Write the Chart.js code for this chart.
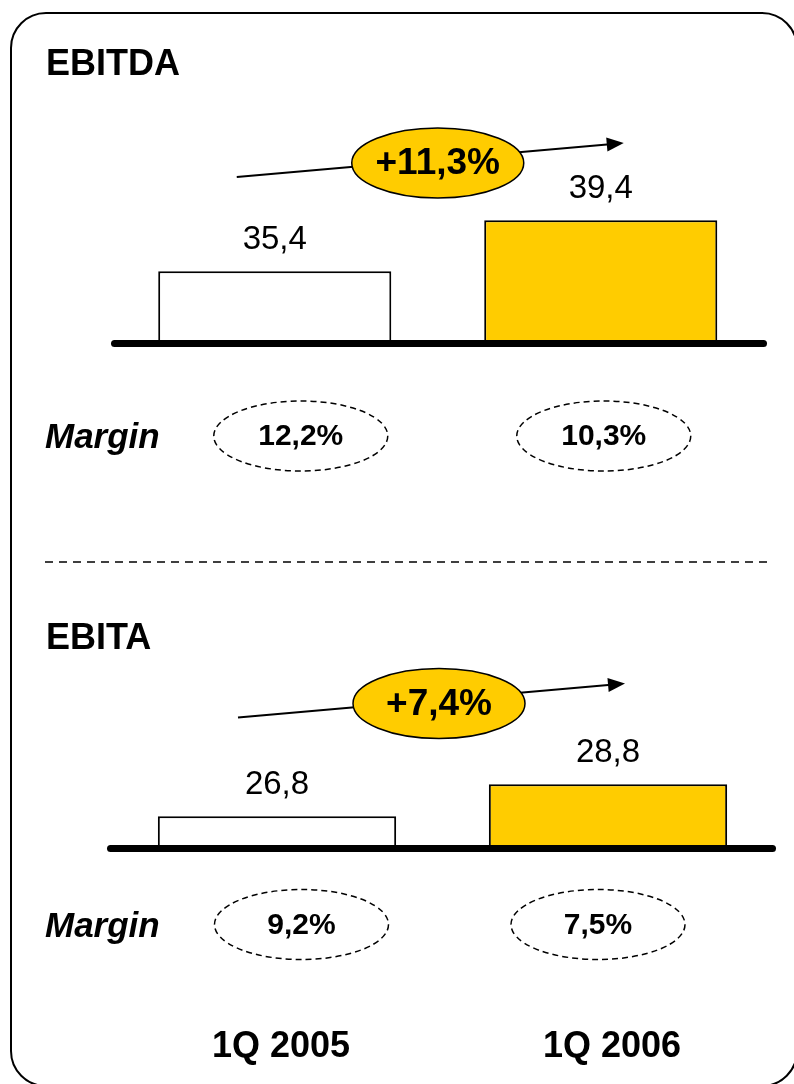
<!DOCTYPE html>
<html>
<head>
<meta charset="utf-8">
<script src="https://cdn.jsdelivr.net/npm/chart.js@4.4.1/dist/chart.umd.min.js"></script>
<style>
    html, body { margin: 0; padding: 0; background: #fff; }
    body { width: 794px; height: 1084px; position: relative; overflow: hidden; }
    .frame {
        position: absolute; left: 10px; top: 12px; width: 788px; height: 1075px;
        box-sizing: border-box; border: 2px solid #000; border-radius: 36px;
    }
    canvas { position: absolute; left: 0; }
    #ebitdaChart { top: 0; }
    #ebitaChart { top: 580px; }
</style>
</head>
<body>
<div class="frame"></div>
<canvas id="ebitdaChart" width="794" height="580"></canvas>
<canvas id="ebitaChart" width="794" height="504"></canvas>
<script>
// Data
const categories = ['1Q 2005', '1Q 2006'];
const ebitdaValues = [35.4, 39.4];
const ebitaValues = [26.8, 28.8];
const ebitdaMargins = [12.2, 10.3];
const ebitaMargins = [9.2, 7.5];
const growthLabels = ['+11,3%', '+7,4%'];

const YELLOW = '#FFCC00';
const FONT = '"Liberation Sans", Arial, sans-serif';

function fmt(v) {
    return v.toFixed(1).replace('.', ',');
}

// Draws the axis bar, value labels, growth pill and margin ellipses
const decorPlugin = {
    id: 'decor',
    afterDatasetsDraw(chart, args, opts) {
        const ctx = chart.ctx;
        const area = chart.chartArea;
        const bars = chart.getDatasetMeta(0).data;
        const values = chart.data.datasets[0].data;
        ctx.save();

        // title
        ctx.fillStyle = '#000';
        ctx.textAlign = 'left';
        ctx.textBaseline = 'alphabetic';
        ctx.font = 'bold 36px ' + FONT;
        ctx.fillText(opts.title, 46, opts.titleY);

        // thick base line
        ctx.strokeStyle = '#000';
        ctx.lineWidth = 7;
        ctx.lineCap = 'round';
        ctx.beginPath();
        ctx.moveTo(area.left + opts.axisFrom, area.bottom + 3.5);
        ctx.lineTo(area.right + opts.axisTo, area.bottom + 3.5);
        ctx.stroke();

        // value labels
        ctx.font = '33px ' + FONT;
        ctx.textAlign = 'center';
        bars.forEach((bar, i) => {
            ctx.fillText(fmt(values[i]), bar.x, bar.y - 22);
        });

        // growth arrow + pill
        const cx = (bars[0].x + bars[1].x) / 2 + opts.pillShift;
        const cy = area.top + opts.pillOffset;
        const x0 = cx - 201, y0 = cy + 14;
        const x1 = cx + 186, y1 = cy - 20;
        const ang = Math.atan2(y1 - y0, x1 - x0);
        ctx.lineWidth = 2;
        ctx.lineCap = 'butt';
        ctx.beginPath();
        ctx.moveTo(x0, y0);
        ctx.lineTo(x1 - 14 * Math.cos(ang), y1 - 14 * Math.sin(ang));
        ctx.stroke();
        ctx.beginPath();
        ctx.moveTo(x1, y1);
        ctx.lineTo(x1 - 17 * Math.cos(ang) + 7 * Math.sin(ang), y1 - 17 * Math.sin(ang) - 7 * Math.cos(ang));
        ctx.lineTo(x1 - 17 * Math.cos(ang) - 7 * Math.sin(ang), y1 - 17 * Math.sin(ang) + 7 * Math.cos(ang));
        ctx.closePath();
        ctx.fill();

        ctx.beginPath();
        ctx.ellipse(cx, cy, 86, 35, 0, 0, Math.PI * 2);
        ctx.fillStyle = YELLOW;
        ctx.fill();
        ctx.lineWidth = 1.5;
        ctx.stroke();
        ctx.fillStyle = '#000';
        ctx.font = 'bold 37px ' + FONT;
        ctx.textBaseline = 'middle';
        ctx.fillText(opts.growth, cx, cy + 1);

        // margin row
        ctx.textAlign = 'left';
        ctx.textBaseline = 'alphabetic';
        ctx.font = 'italic bold 35px ' + FONT;
        ctx.fillText('Margin', 45, opts.marginY + 12);

        ctx.setLineDash([6, 4]);
        ctx.lineWidth = 1.5;
        ctx.textAlign = 'center';
        ctx.textBaseline = 'middle';
        ctx.font = 'bold 30px ' + FONT;
        bars.forEach((bar, i) => {
            const mx = bar.x + opts.marginShift[i];
            ctx.beginPath();
            ctx.ellipse(mx, opts.marginY, 87, 35, 0, 0, Math.PI * 2);
            ctx.stroke();
            ctx.fillText(fmt(opts.margins[i]) + '%', mx, opts.marginY + 1);
        });
        ctx.setLineDash([]);

        // dashed separator under the first block
        if (opts.separatorY) {
            ctx.setLineDash([8, 6]);
            ctx.beginPath();
            ctx.moveTo(45, opts.separatorY);
            ctx.lineTo(767, opts.separatorY);
            ctx.stroke();
            ctx.setLineDash([]);
        }

        // category labels at the bottom
        if (opts.categoriesY) {
            ctx.textBaseline = 'alphabetic';
            ctx.font = 'bold 36px ' + FONT;
            bars.forEach((bar, i) => {
                ctx.fillText(chart.data.labels[i], bar.x + 4, opts.categoriesY);
            });
        }

        ctx.restore();
    }
};

function makeChart(id, values, yMin, yMax, padding, barPct, decor) {
    return new Chart(document.getElementById(id), {
        type: 'bar',
        data: {
            labels: categories,
            datasets: [{
                data: values,
                backgroundColor: ['#FFFFFF', YELLOW],
                borderColor: '#000',
                borderWidth: 2,
                borderSkipped: 'bottom',
                barPercentage: 1,
                categoryPercentage: barPct
            }]
        },
        options: {
            responsive: false,
            animation: false,
            devicePixelRatio: 1,
            layout: { padding: padding },
            scales: {
                x: { display: false },
                y: { display: false, min: yMin, max: yMax }
            },
            plugins: {
                legend: { display: false },
                tooltip: { enabled: false },
                decor: decor
            }
        },
        plugins: [decorPlugin]
    });
}

// EBITDA block
makeChart('ebitdaChart', ebitdaValues, 30, 45,
    { left: 111.75, right: 30.25, top: 148.75, bottom: 240 }, 0.715,
    {
        title: 'EBITDA', titleY: 75,
        axisFrom: 2.75, axisTo: -0.25,
        pillOffset: 14.25, pillShift: 0,
        growth: growthLabels[0],
        margins: ebitdaMargins, marginY: 436, marginShift: [26, 3],
        separatorY: 562
    });

// EBITA block
makeChart('ebitaChart', ebitaValues, 25, 35,
    { left: 111.5, right: 20.5, top: 105, bottom: 239 }, 0.72,
    {
        title: 'EBITA', titleY: 69,
        axisFrom: -1, axisTo: -1,
        pillOffset: 18.5, pillShift: -3.5,
        growth: growthLabels[1],
        margins: ebitaMargins, marginY: 344.5, marginShift: [24.5, -10],
        categoriesY: 477
    });
</script>
</body>
</html>
